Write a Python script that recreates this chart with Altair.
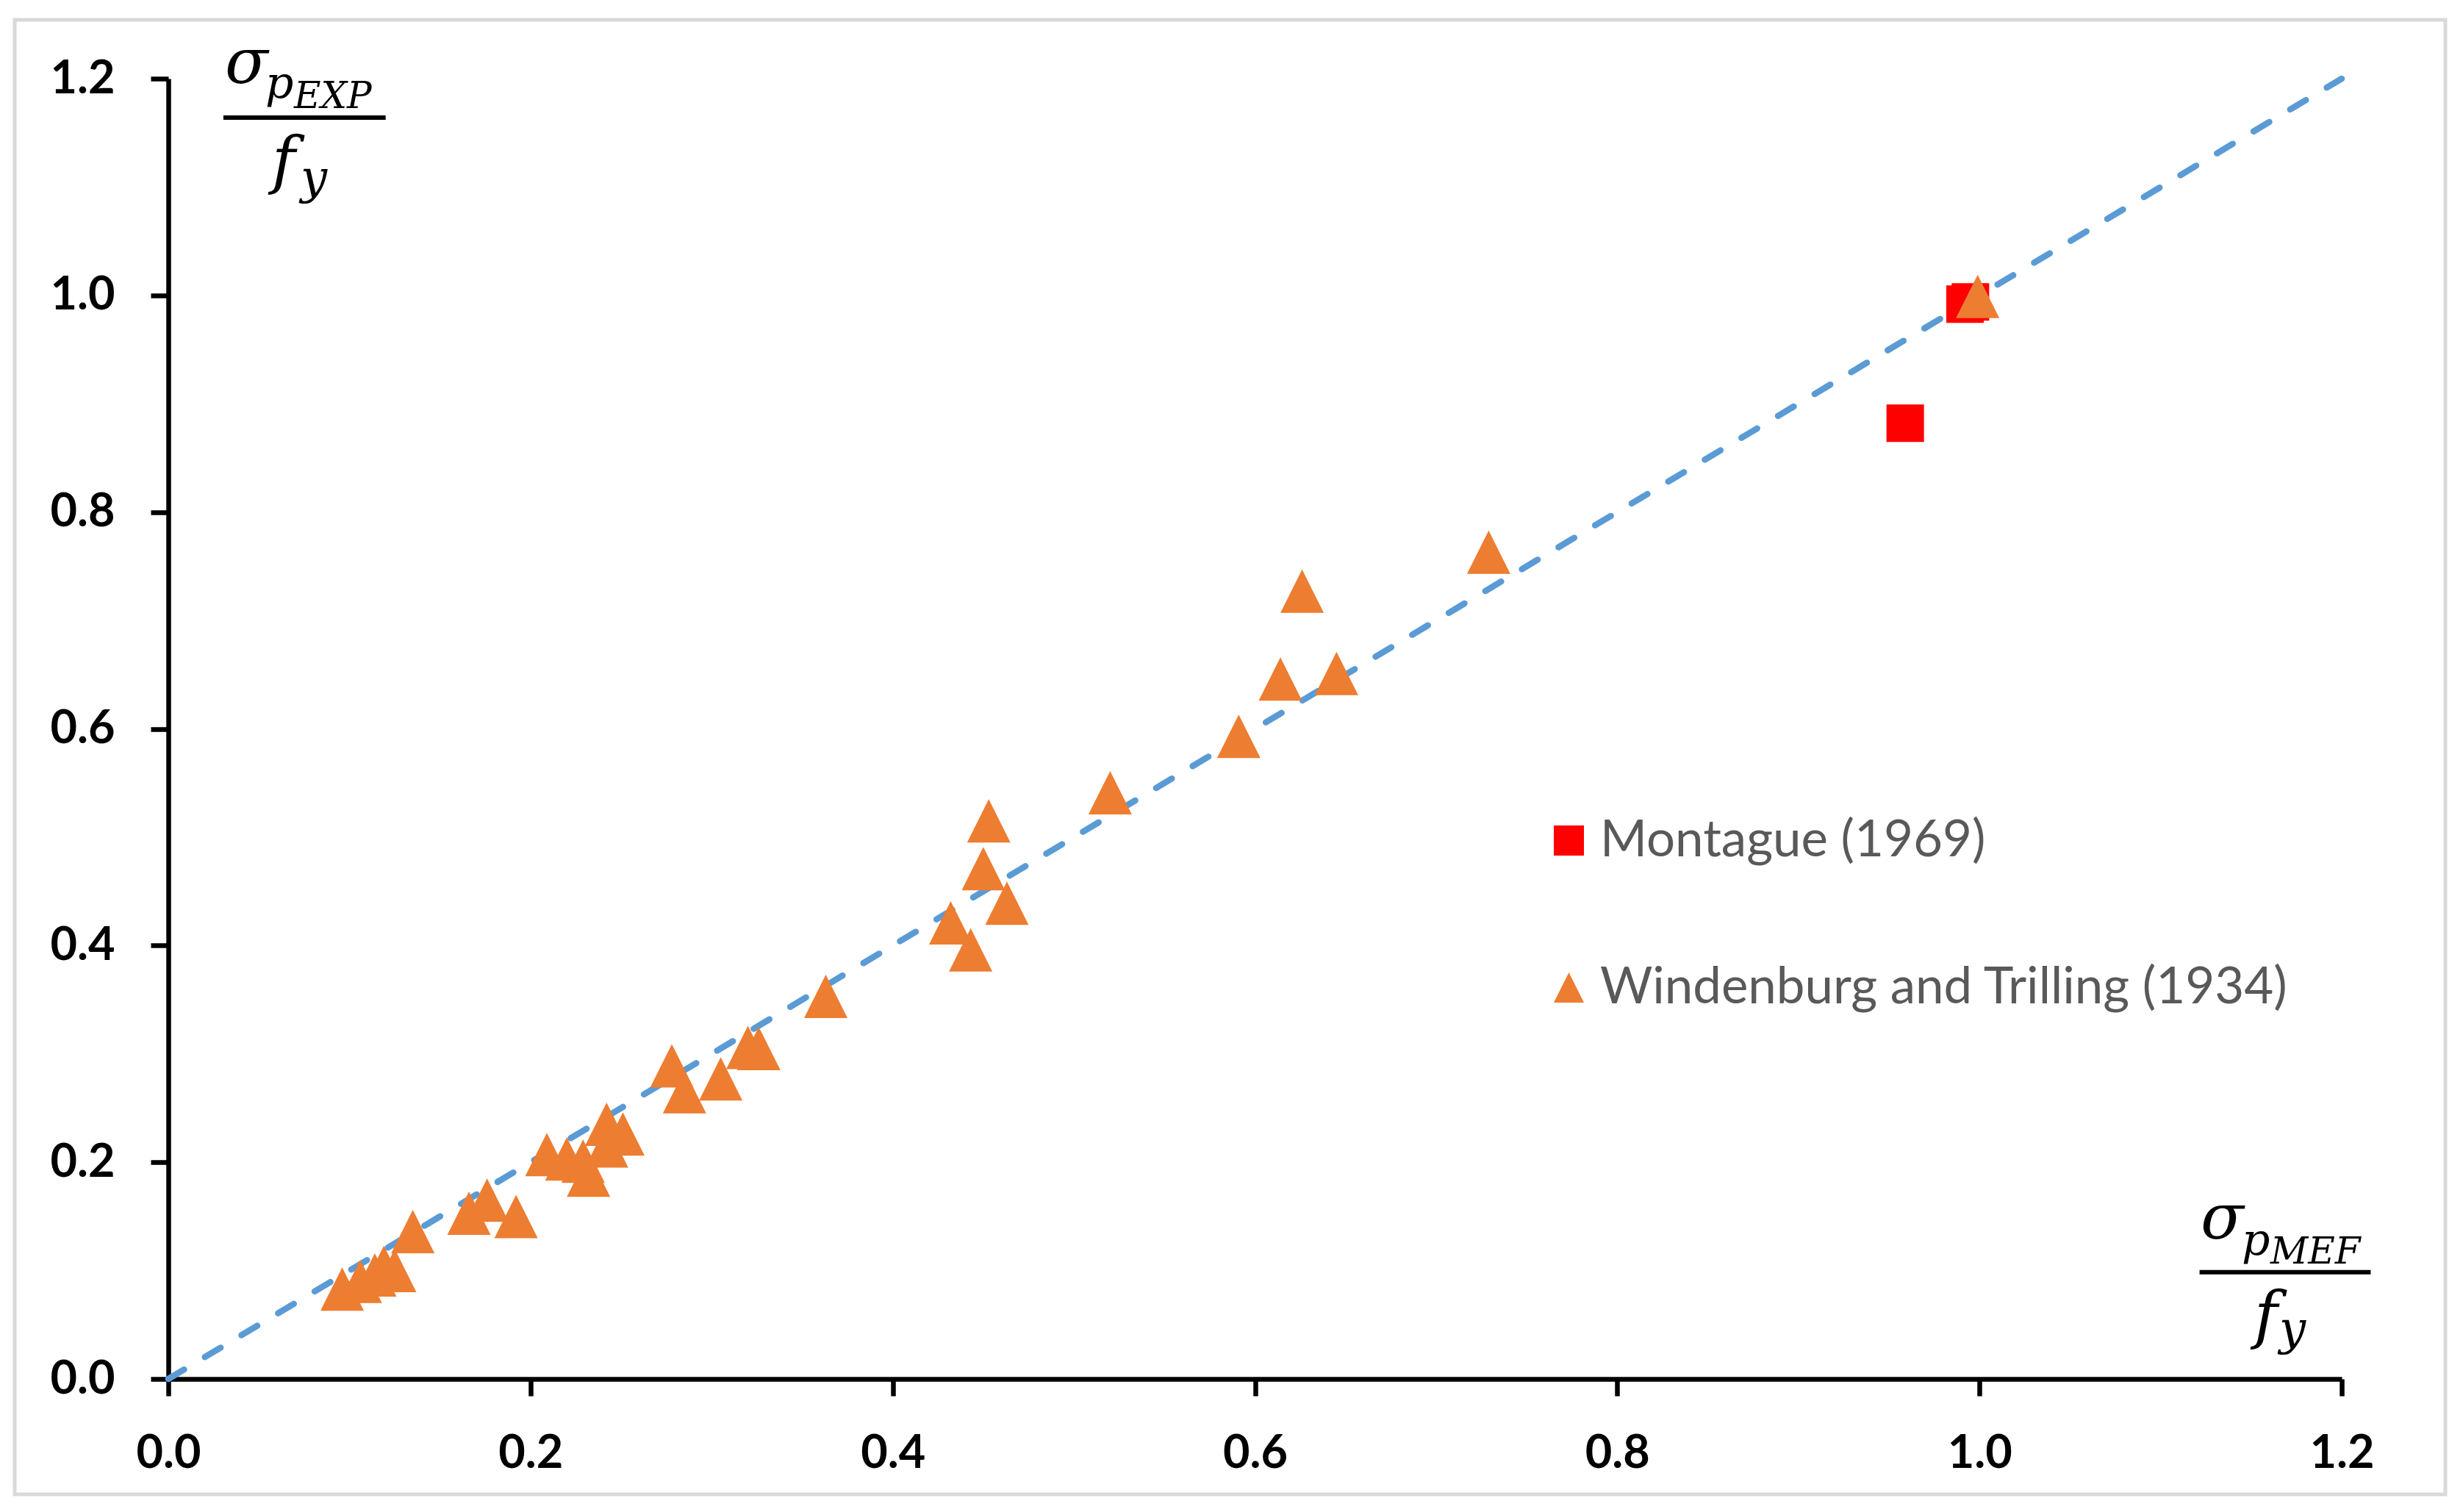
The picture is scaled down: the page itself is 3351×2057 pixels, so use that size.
import altair as alt
import pandas as pd

# ---------------- data ----------------
series_names = ["Montague (1969)", "Windenburg and Trilling (1934)"]

mont_x = [0.992, 0.995, 0.959]
mont_y = [0.992, 0.994, 0.882]

wt_x = [0.999, 0.729, 0.626, 0.614, 0.645, 0.591, 0.520, 0.453, 0.450, 0.463,
        0.432, 0.443, 0.363, 0.320, 0.326, 0.278, 0.305, 0.285, 0.242, 0.242,
        0.251, 0.209, 0.220, 0.229, 0.232, 0.176, 0.166, 0.192, 0.135, 0.096,
        0.106, 0.114, 0.119, 0.125]
wt_y = [0.999, 0.763, 0.727, 0.646, 0.651, 0.593, 0.541, 0.515, 0.471, 0.439,
        0.421, 0.396, 0.353, 0.306, 0.305, 0.289, 0.277, 0.265, 0.235, 0.215,
        0.226, 0.207, 0.203, 0.201, 0.188, 0.165, 0.153, 0.150, 0.136, 0.083,
        0.090, 0.096, 0.103, 0.100]

line_x = [0.0, 1.2]
line_y = [0.0, 1.2]

tick_values = [0.0, 0.2, 0.4, 0.6, 0.8, 1.0, 1.2]

# ---------------- styling ----------------
W, H = 2957, 1769
xs = alt.Scale(domain=[0, 1.2], nice=False, zero=False)
ys = alt.Scale(domain=[0, 1.2], nice=False, zero=False)

x_axis = alt.Axis(values=tick_values, format=".1f", title=None, grid=False,
                  domainColor="black", domainWidth=6.5, tickColor="black",
                  tickWidth=6.5, tickSize=23, labelFont="Lato",
                  labelFontWeight="bold", labelFontSize=63, labelColor="black",
                  labelPadding=47, labelFlush=False, labelOverlap=False)
y_axis = alt.Axis(values=tick_values, format=".1f", title=None, grid=False,
                  domainColor="black", domainWidth=6.5, tickColor="black",
                  tickWidth=6.5, tickSize=24, labelFont="Lato",
                  labelFontWeight="bold", labelFontSize=63, labelColor="black",
                  labelPadding=49, labelFlush=False, labelOverlap=False)

x_enc = alt.X("x:Q", scale=xs, axis=x_axis)
y_enc = alt.Y("y:Q", scale=ys, axis=y_axis)

legend = alt.Legend(orient="none", legendX=1871, legendY=1002, title=None,
                    symbolSize=1681, symbolStrokeWidth=0, symbolOpacity=1,
                    labelFont="Lato", labelFontSize=69, labelColor="#595959",
                    labelLimit=3000, rowPadding=130, labelOffset=8, padding=0)
color_enc = alt.Color("series:N", legend=legend,
                      scale=alt.Scale(domain=series_names,
                                      range=["#FF0000", "#ED7D31"]))
shape_enc = alt.Shape("series:N", legend=legend,
                      scale=alt.Scale(domain=series_names,
                                      range=["square", "M0,-1L1,1L-1,1Z"]))

# ---------------- layers ----------------
frame = alt.Chart(alt.Data(values=[{}])).mark_rect(
    fillOpacity=0, stroke="#D9D9D9", strokeWidth=5
).encode(x=alt.value(-209), x2=alt.value(3098), y=alt.value(-80), y2=alt.value(1926))

line = alt.Chart(pd.DataFrame({"x": line_x, "y": line_y})).mark_line(
    color="#5B9BD5", strokeWidth=8.5, strokeDash=[25, 33], strokeCap="round"
).encode(x=x_enc, y=y_enc)

mont_df = pd.DataFrame({"x": mont_x, "y": mont_y, "series": series_names[0]})
wt_df = pd.DataFrame({"x": wt_x, "y": wt_y, "series": series_names[1]})

squares = alt.Chart(mont_df).mark_point(
    filled=True, size=2601, opacity=1, strokeWidth=0
).encode(x=x_enc, y=y_enc, color=color_enc, shape=shape_enc)

triangles = alt.Chart(wt_df).mark_point(
    filled=True, size=3481, opacity=1, strokeWidth=0
).encode(x=x_enc, y=y_enc, color=color_enc, shape=shape_enc)


def piece(txt, ax, ay, dx, dy, size):
    return alt.Chart(pd.DataFrame({"x": [ax], "y": [ay], "t": [txt]})).mark_text(
        font="DejaVu Serif", fontStyle="italic", fontSize=size, align="left",
        baseline="alphabetic", dx=dx, dy=dy, color="black"
    ).encode(x=x_enc, y=y_enc, text="t:N")


def bar(x1, x2, yv):
    return alt.Chart(pd.DataFrame({"x": [x1], "x2": [x2], "y": [yv]})).mark_rule(
        strokeWidth=6, color="black"
    ).encode(x=x_enc, x2="x2:Q", y=y_enc)


# y-axis fraction label: sigma_{p_EXP} / f_y   (anchored at x=0, y=1.2)
ylab = [
    piece("σ", 0, 1.2, 77, 6, 86),
    piece("p", 0, 1.2, 132, 26, 60),
    piece("EXP", 0, 1.2, 171, 40, 50),
    piece("f", 0, 1.2, 141, 140, 86),
    piece("y", 0, 1.2, 180, 156, 64),
    bar(0.0304, 0.1200, 1.164),
]
# x-axis fraction label: sigma_{p_MEF} / f_y   (anchored at x=1.2, y=0)
xlab = [
    piece("σ", 1.2, 0, -192, -191, 86),
    piece("p", 1.2, 0, -136, -169, 60),
    piece("MEF", 1.2, 0, -97, -157, 50),
    piece("f", 1.2, 0, -119, -58, 86),
    piece("y", 1.2, 0, -85, -47, 64),
    bar(1.1215, 1.2160, 0.0985),
]

chart = alt.layer(frame, line, squares, triangles, *ylab, *xlab).properties(
    width=W, height=H,
    autosize=alt.AutoSizeParams(type="none"),
    padding={"left": 221, "top": 99, "right": 150, "bottom": 165},
    background="white",
).configure_view(strokeWidth=0)

chart.save("out.html", embed_options={"renderer": "svg", "actions": False})
